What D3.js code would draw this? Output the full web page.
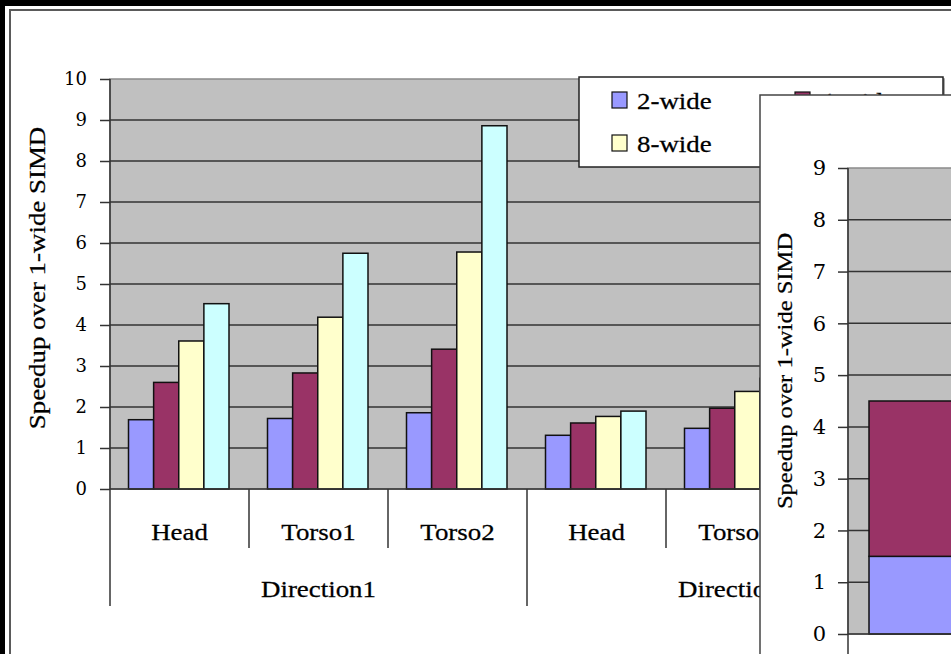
<!DOCTYPE html>
<html>
<head>
<meta charset="utf-8">
<script src="https://cdn.jsdelivr.net/npm/d3@7"></script>
<style>
  body { margin: 0; background: #fff; }
  svg { display: block; }
</style>
</head>
<body>
<div id="chart"></div>
<script>
/*
 * Data
 * */
var directions = ['Direction1', 'Direction2'];
var parts = ['Head', 'Torso1', 'Torso2'];
var widths = ['2-wide', '4-wide', '8-wide', '16-wide'];
var colours = ['#9999ff', '#993366', '#ffffcc', '#ccffff'];

// speedup per (direction, part), one value per SIMD width
var speedup = [
    [1.69, 2.60, 3.61, 4.52],
    [1.72, 2.83, 4.19, 5.75],
    [1.86, 3.41, 5.78, 8.86],
    [1.31, 1.61, 1.77, 1.90],
    [1.48, 1.97, 2.38, 2.70],
    [1.60, 2.20, 2.90, 3.20]
];
var yTicks = [0, 1, 2, 3, 4, 5, 6, 7, 8, 9, 10];

// second (overlapping) chart: stacked bars
var insetCats = ['Head'];
var insetSeries = ['2-wide', '4-wide'];
var insetValues = [[1.5, 3.0]];
var insetTicks = [0, 1, 2, 3, 4, 5, 6, 7, 8, 9];

var W = 951, H = 654,
    sx = 1.17,
    serif = '"Liberation Serif", "Times New Roman", serif',
    digits = '"DejaVu Serif", serif',
    plotBg = '#c0c0c0',
    gridColour = '#333';

var svg = d3.select('#chart').append('svg')
    .attr('width', W)
    .attr('height', H);

svg.append('rect').attr('width', W).attr('height', H).attr('fill', '#fff');

// stretched text helper (slide text is wider than the font)
function label(g, txt, x, y, size, anchor, rot) {
    return g.append('text')
        .attr('transform', 'translate(' + x + ',' + y + ')' + (rot ? ' rotate(' + rot + ')' : '') + ' scale(' + sx + ',1)')
        .attr('text-anchor', anchor || 'middle')
        .attr('font-family', serif)
        .attr('font-size', size)
        .attr('fill', '#000')
        .attr('stroke', '#000').attr('stroke-width', 0.25)
        .text(txt);
}

/*
 * Slide frame
 * */
svg.append('rect').attr('x', 0).attr('y', 0).attr('width', 5).attr('height', H).attr('fill', '#000');
svg.append('rect').attr('x', 0).attr('y', 0).attr('width', W).attr('height', 6).attr('fill', '#000');
svg.append('path').attr('d', 'M10,' + H + 'V10H' + W)
    .attr('fill', 'none').attr('stroke', '#5a5a5a').attr('stroke-width', 2);

/*
 * Main chart
 * */
var cats = [];
directions.forEach(function (d) {
    parts.forEach(function (p) { cats.push(d + '|' + p); });
});

var x0 = d3.scaleBand().domain(cats).range([110, 944]);
var x1 = d3.scaleBand().domain(widths).range([18.5, x0.bandwidth() - 20]);
var y = d3.scaleLinear().domain([0, 10]).range([489, 79]);
var colour = d3.scaleOrdinal().domain(widths).range(colours);

var main = svg.append('g');

main.append('rect')
    .attr('x', x0.range()[0]).attr('y', y(10))
    .attr('width', x0.range()[1] - x0.range()[0]).attr('height', y(0) - y(10))
    .attr('fill', plotBg).attr('stroke', '#8a8a8a').attr('stroke-width', 1.5);

main.selectAll('.grid').data(yTicks.slice(1, -1)).enter().append('line')
    .attr('x1', x0.range()[0]).attr('x2', x0.range()[1])
    .attr('y1', y).attr('y2', y)
    .attr('stroke', gridColour).attr('stroke-width', 1.5);

var yAxis = main.append('g')
    .attr('transform', 'translate(110,0)')
    .call(d3.axisLeft(y).tickValues(yTicks).tickSize(10).tickPadding(13).tickFormat(d3.format('d')));
yAxis.select('.domain').remove();
yAxis.selectAll('line').attr('stroke', gridColour).attr('stroke-width', 1.5);
yAxis.selectAll('text').attr('font-family', digits).attr('font-size', 18).attr('fill', '#000');

var groups = main.selectAll('.cat').data(cats).enter().append('g')
    .attr('transform', function (d) { return 'translate(' + x0(d) + ',0)'; });

groups.selectAll('rect').data(function (d, i) {
    return widths.map(function (w, j) { return { key: w, value: speedup[i][j] }; });
}).enter().append('rect')
    .attr('x', function (d) { return x1(d.key); })
    .attr('y', function (d) { return y(d.value); })
    .attr('width', x1.bandwidth())
    .attr('height', function (d) { return y(0) - y(d.value); })
    .attr('fill', function (d) { return colour(d.key); })
    .attr('stroke', '#111').attr('stroke-width', 1.5);

// axis lines
main.append('line').attr('x1', 110).attr('x2', 944).attr('y1', y(0)).attr('y2', y(0))
    .attr('stroke', gridColour).attr('stroke-width', 1.5);
main.append('line').attr('x1', 110).attr('x2', 110).attr('y1', y(10)).attr('y2', 606)
    .attr('stroke', gridColour).attr('stroke-width', 1.5);

// multi-level category axis
cats.forEach(function (c, i) {
    var p = c.split('|')[1];
    if (i % parts.length !== 0) {
        main.append('line').attr('x1', x0(c)).attr('x2', x0(c)).attr('y1', y(0)).attr('y2', 548)
            .attr('stroke', gridColour).attr('stroke-width', 1.5);
    }
    label(main, p, x0(c) + x0.bandwidth() / 2, 540, 23);
});
directions.forEach(function (d, i) {
    var first = x0(d + '|' + parts[0]);
    var span = x0.bandwidth() * parts.length;
    if (i > 0) {
        main.append('line').attr('x1', first).attr('x2', first).attr('y1', y(0)).attr('y2', 606)
            .attr('stroke', gridColour).attr('stroke-width', 1.5);
    }
    label(main, d, first + span / 2, 597, 23);
});

label(main, 'Speedup over 1-wide SIMD', 45, 278, 23, 'middle', -90);

// legend
var legend = main.append('g');
legend.append('rect').attr('x', 579).attr('y', 77).attr('width', 364).attr('height', 90)
    .attr('fill', '#fff').attr('stroke', '#222').attr('stroke-width', 1.5);
widths.forEach(function (w, i) {
    var lx = 612 + (i % 2) * 183,
        ly = 92 + Math.floor(i / 2) * 43;
    legend.append('rect').attr('x', lx).attr('y', ly).attr('width', 15).attr('height', 16)
        .attr('fill', colour(w)).attr('stroke', '#111').attr('stroke-width', 1.2);
    label(legend, w, lx + 25, ly + 17, 23, 'start');
});

/*
 * Overlapping second chart
 * */
var inset = svg.append('g');
inset.append('rect').attr('x', 760).attr('y', 95).attr('width', 240).attr('height', 600)
    .attr('fill', '#fff').attr('stroke', '#444').attr('stroke-width', 1.5);

var xi = d3.scaleBand().domain(insetCats).range([848, 1048]).paddingInner(0).paddingOuter(0.133);
var yi = d3.scaleLinear().domain([0, 9]).range([634, 168]);
var ci = d3.scaleOrdinal().domain(insetSeries).range(colours);

inset.append('rect').attr('x', 848).attr('y', yi(9)).attr('width', 200).attr('height', yi(0) - yi(9))
    .attr('fill', plotBg).attr('stroke', '#8a8a8a').attr('stroke-width', 1.5);

inset.selectAll('.grid').data(insetTicks.slice(1, -1)).enter().append('line')
    .attr('x1', 848).attr('x2', 1048).attr('y1', yi).attr('y2', yi)
    .attr('stroke', gridColour).attr('stroke-width', 1.5);

var yiAxis = inset.append('g')
    .attr('transform', 'translate(848,0)')
    .call(d3.axisLeft(yi).tickValues(insetTicks).tickSize(10).tickPadding(12).tickFormat(d3.format('d')));
yiAxis.select('.domain').remove();
yiAxis.selectAll('line').attr('stroke', gridColour).attr('stroke-width', 1.5);
yiAxis.selectAll('text').attr('font-family', digits).attr('font-size', 21).attr('fill', '#000');

var rows = insetCats.map(function (c, i) {
    var o = { cat: c };
    insetSeries.forEach(function (s, j) { o[s] = insetValues[i][j]; });
    return o;
});
var stacked = d3.stack().keys(insetSeries)(rows);

inset.selectAll('.layer').data(stacked).enter().append('g')
    .attr('fill', function (d) { return ci(d.key); })
    .selectAll('rect').data(function (d) { return d; }).enter().append('rect')
    .attr('x', function (d) { return xi(d.data.cat); })
    .attr('y', function (d) { return yi(d[1]); })
    .attr('width', xi.bandwidth())
    .attr('height', function (d) { return yi(d[0]) - yi(d[1]); })
    .attr('stroke', '#111').attr('stroke-width', 1.5);

inset.append('line').attr('x1', 848).attr('x2', 1048).attr('y1', yi(0)).attr('y2', yi(0))
    .attr('stroke', gridColour).attr('stroke-width', 1.5);
inset.append('line').attr('x1', 848).attr('x2', 848).attr('y1', yi(9)).attr('y2', H)
    .attr('stroke', gridColour).attr('stroke-width', 1.5);

label(inset, 'Speedup over 1-wide SIMD', 792, 371, 21, 'middle', -90);
</script>
</body>
</html>
